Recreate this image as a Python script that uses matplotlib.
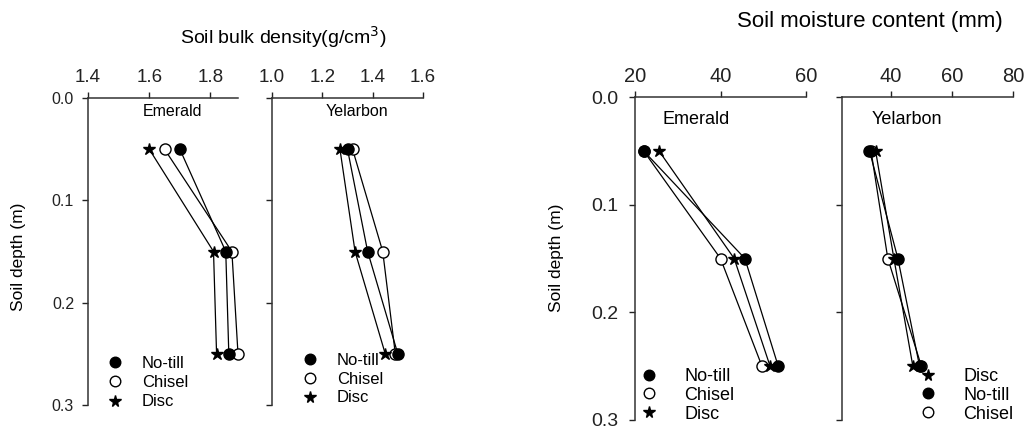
import matplotlib
matplotlib.use("Agg")
import matplotlib.pyplot as plt
from matplotlib.lines import Line2D
from matplotlib.ticker import FormatStrFormatter

plt.rcParams['font.family'] = ['Liberation Sans', 'DejaVu Sans']

# Sampling depths (m)
depth = [0.05, 0.15, 0.25]

# Soil bulk density (g/cm3)
bd_emerald_notill = [1.70, 1.85, 1.86]
bd_emerald_chisel = [1.65, 1.87, 1.89]
bd_emerald_disc = [1.60, 1.81, 1.82]
bd_yelarbon_notill = [1.30, 1.38, 1.50]
bd_yelarbon_chisel = [1.32, 1.44, 1.49]
bd_yelarbon_disc = [1.27, 1.33, 1.45]

# Soil moisture content (mm)
sm_emerald_notill = [22.0, 45.7, 53.5]
sm_emerald_chisel = [22.0, 40.0, 49.7]
sm_emerald_disc = [25.6, 43.2, 51.6]
sm_yelarbon_notill = [33.0, 42.3, 49.4]
sm_yelarbon_chisel = [33.5, 39.0, 50.0]
sm_yelarbon_disc = [35.0, 41.0, 47.2]

bd_emerald_ticks = [1.4, 1.6, 1.8]
bd_yelarbon_ticks = [1.0, 1.2, 1.4, 1.6]
sm_emerald_ticks = [20, 40, 60]
sm_yelarbon_ticks = [40, 60, 80]
depth_ticks = [0.0, 0.1, 0.2, 0.3]

W, H = 1029, 429
fig = plt.figure(figsize=(W / 100, H / 100), dpi=100)


def px_axes(x0, y0, x1, y1):
    return fig.add_axes([x0 / W, 1 - y1 / H, (x1 - x0) / W, (y1 - y0) / H])


STYLE = {
    'No-till': dict(marker='o', mfc='black', mec='black', ms=8),
    'Chisel': dict(marker='o', mfc='white', mec='black', ms=8),
    'Disc': dict(marker='*', mfc='black', mec='black', ms=9),
}


def setup(ax, xlim, xticks, xfmt, show_ylabels, xsize, ysize, ypad, xpad):
    ax.set_xlim(*xlim)
    ax.set_ylim(0.3, 0.0)
    ax.xaxis.tick_top()
    ax.set_xticks(xticks)
    ax.xaxis.set_major_formatter(FormatStrFormatter(xfmt))
    ax.set_yticks(depth_ticks)
    ax.yaxis.set_major_formatter(FormatStrFormatter('%.1f'))
    ax.tick_params(axis='x', direction='out', length=4, width=1, labelsize=xsize,
                   pad=xpad, colors='#222222')
    ax.tick_params(axis='y', direction='out', length=4, width=1, labelsize=ysize,
                   pad=ypad, colors='#222222', labelleft=show_ylabels)
    for s in ('bottom', 'right'):
        ax.spines[s].set_visible(False)
    for s in ('top', 'left'):
        ax.spines[s].set_linewidth(1.1)
        ax.spines[s].set_color('#333333')
    ax.patch.set_alpha(0)


def draw(ax, series):
    # open symbols first so the filled ones sit on top where they overlap
    for name, vals in series:
        ax.plot(vals, depth, color='black', lw=0.9, clip_on=False, **STYLE[name])


def legend(ax, order, x, y, size, spacing, gap):
    handles = [Line2D([], [], ls='none', **STYLE[n]) for n in order]
    ax.legend(handles, order, loc='upper left', bbox_to_anchor=(x / W, 1 - y / H),
              bbox_transform=fig.transFigure, frameon=False, fontsize=size,
              handlelength=1.0, handletextpad=gap, labelspacing=spacing,
              borderpad=0, borderaxespad=0, markerscale=0.95)


# Bulk density panels
ax1 = px_axes(88, 98, 238, 405)
setup(ax1, (1.4, 1.89), bd_emerald_ticks, '%.1f', True, 13.5, 11.5, 6, 5)
draw(ax1, [('Chisel', bd_emerald_chisel), ('No-till', bd_emerald_notill),
           ('Disc', bd_emerald_disc)])
ax1.text(0.56, 0.955, 'Emerald', transform=ax1.transAxes, ha='center', va='center',
         fontsize=11.5)
legend(ax1, ['No-till', 'Chisel', 'Disc'], 107, 356, 12, 0.25, 1.1)

ax2 = px_axes(272, 98, 423, 405)
setup(ax2, (1.0, 1.6), bd_yelarbon_ticks, '%.1f', False, 13.5, 11.5, 6, 5)
draw(ax2, [('Chisel', bd_yelarbon_chisel), ('No-till', bd_yelarbon_notill),
           ('Disc', bd_yelarbon_disc)])
ax2.text(0.56, 0.955, 'Yelarbon', transform=ax2.transAxes, ha='center', va='center',
         fontsize=11.5)
legend(ax2, ['No-till', 'Chisel', 'Disc'], 302, 353, 12, 0.22, 1.1)

# Soil moisture panels
ax3 = px_axes(635, 97, 806, 420)
setup(ax3, (20, 60), sm_emerald_ticks, '%d', True, 14.5, 14, 8, 4)
draw(ax3, [('Chisel', sm_emerald_chisel), ('No-till', sm_emerald_notill),
           ('Disc', sm_emerald_disc)])
ax3.text(0.36, 0.93, 'Emerald', transform=ax3.transAxes, ha='center', va='center',
         fontsize=13)
legend(ax3, ['No-till', 'Chisel', 'Disc'], 640, 368, 13, 0.1, 1.45)

ax4 = px_axes(842, 97, 1013, 420)
setup(ax4, (24, 80), sm_yelarbon_ticks, '%d', False, 14.5, 14, 8, 4)
draw(ax4, [('Chisel', sm_yelarbon_chisel), ('No-till', sm_yelarbon_notill),
           ('Disc', sm_yelarbon_disc)])
ax4.text(0.38, 0.93, 'Yelarbon', transform=ax4.transAxes, ha='center', va='center',
         fontsize=13)
legend(ax4, ['Disc', 'No-till', 'Chisel'], 919, 368, 13, 0.1, 1.45)

# Group titles and depth labels
fig.text(283 / W, 1 - 37 / H, 'Soil bulk density(g/cm$^3$)', ha='center', va='center',
         fontsize=14)
fig.text(870 / W, 1 - 21 / H, 'Soil moisture content (mm)', ha='center', va='center',
         fontsize=16)
fig.text(19 / W, 1 - 257 / H, 'Soil depth (m)', rotation=90, ha='center', va='center',
         fontsize=12.5)
fig.text(557 / W, 1 - 258 / H, 'Soil depth (m)', rotation=90, ha='center', va='center',
         fontsize=12.5)

fig.savefig('out.png', dpi=100, facecolor='white')
